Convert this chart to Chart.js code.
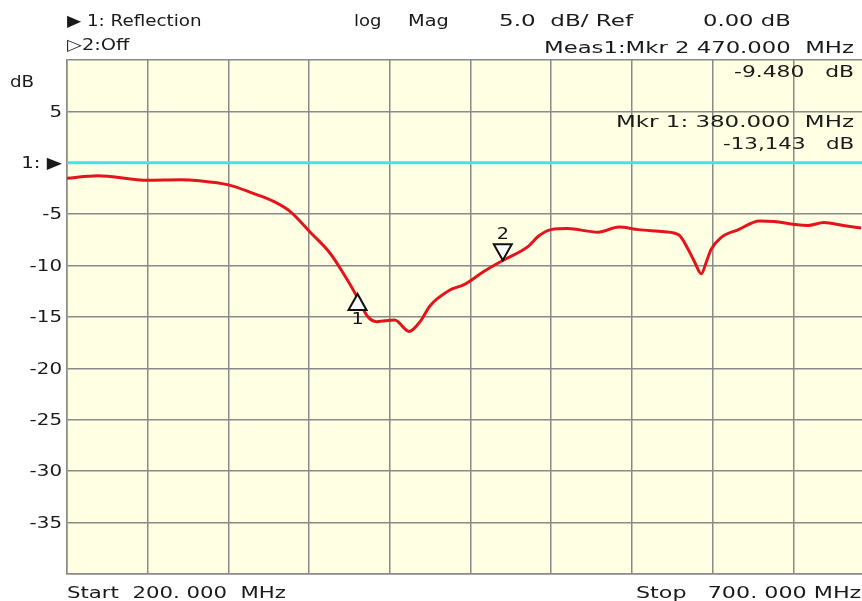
<!DOCTYPE html>
<html>
<head>
<meta charset="utf-8">
<script src="https://cdn.jsdelivr.net/npm/chart.js@4.4.0/dist/chart.umd.min.js"></script>
<style>
  html, body { margin: 0; padding: 0; background: #fff; overflow: hidden; }
  #wrap { position: relative; width: 862px; height: 601px; overflow: hidden; }
  canvas { position: absolute; left: 0; top: 0; }
  .t { position: absolute; font-family: "DejaVu Sans", sans-serif; font-size: 16px; color: #1a1a1a; white-space: pre; line-height: 1; transform-origin: left center; }
  .r { text-align: right; transform-origin: right center; }
</style>
</head>
<body>
<div id="wrap">
  <canvas id="c" width="900" height="601"></canvas>
  <div class="t" data-w="135" style="left:67px;top:13px">▶ 1: Reflection</div>
  <div class="t" data-w="63" style="left:67px;top:37px">▷2:Off</div>
  <div class="t" data-w="27" style="left:354px;top:13px">log</div>
  <div class="t" data-w="41" style="left:408px;top:13px">Mag</div>
  <div class="t" data-w="134" style="left:499px;top:13px">5.0  dB/ Ref</div>
  <div class="t" data-w="88" style="left:703px;top:13px">0.00 dB</div>
  <div class="t r" data-w="310" style="right:8px;top:40px">Meas1:Mkr 2 470.000  MHz</div>
  <div class="t r" data-w="120" style="right:8px;top:64px">-9.480   dB</div>
  <div class="t r" data-w="238" style="right:8px;top:114px">Mkr 1: 380.000  MHz</div>
  <div class="t r" data-w="131" style="right:8px;top:136px">-13,143   dB</div>
  <div class="t" data-w="24" style="left:10px;top:74px">dB</div>
  <div class="t" data-w="219" style="left:67px;top:585px">Start  200. 000  MHz</div>
  <div class="t" data-w="225" style="left:636px;top:585px">Stop   700. 000 MHz</div>
</div>
<script>
// trace 1: reflection (MHz, dB)
const freq = [200, 219, 250, 270, 282, 300, 315, 328, 338, 351, 363, 371, 380, 386, 392, 403, 412, 419, 425, 437, 446, 458, 470, 486, 492, 500, 510, 529, 542, 554, 570, 579, 585, 589, 593, 596, 599, 605, 616, 629, 638, 651, 659, 669, 681, 692];
const refl = [-1.5, -1.25, -1.7, -1.65, -1.75, -2.15, -2.95, -3.75, -4.7, -6.8, -8.8, -10.7, -13.1, -14.9, -15.45, -15.3, -16.4, -15.4, -13.9, -12.4, -11.85, -10.6, -9.5, -8.1, -7.15, -6.5, -6.4, -6.75, -6.25, -6.5, -6.7, -7.0, -8.45, -9.7, -10.8, -9.7, -8.45, -7.3, -6.5, -5.65, -5.7, -6.0, -6.1, -5.8, -6.1, -6.35];

// reference line
const refFreq = [200, 700];
const refLevel = [0, 0];

// markers
const markerName = ['1', '2'];
const markerFreq = [380, 470];
const markerDb = [-13.143, -9.48];
const markerDir = ['up', 'down'];

const yTicks = { '10': '', '0': '1: ▶', '-40': '' };

// stretch the header/footer text to the wide analyser font
document.querySelectorAll('.t').forEach(el => {
  const w = +el.dataset.w;
  el.style.transform = 'scaleX(' + (w / el.offsetWidth) + ')';
});

const plotBg = {
  id: 'plotBg',
  beforeDraw(chart) {
    const a = chart.chartArea, ctx = chart.ctx;
    ctx.save();
    ctx.fillStyle = '#ffffe3';
    ctx.fillRect(a.left, a.top, a.right - a.left, a.bottom - a.top);
    ctx.restore();
  }
};

// y labels drawn by hand so they can be stretched wider
const yLabels = {
  id: 'yLabels',
  afterDraw(chart) {
    const ys = chart.scales.y, ctx = chart.ctx;
    ctx.save();
    ctx.fillStyle = '#1a1a1a';
    ctx.font = '16px "DejaVu Sans"';
    ctx.textAlign = 'right';
    ctx.textBaseline = 'middle';
    ys.ticks.forEach(t => {
      const key = String(t.value);
      const txt = key in yTicks ? yTicks[key] : key;
      if (!txt) return;
      ctx.save();
      ctx.translate(ys.right - 5, ys.getPixelForValue(t.value) + 1);
      ctx.scale(1.24, 1);
      ctx.fillText(txt, 0, 0);
      ctx.restore();
    });
    ctx.restore();
  }
};

const markers = {
  id: 'markers',
  afterDatasetsDraw(chart) {
    const ctx = chart.ctx, xs = chart.scales.x, ys = chart.scales.y;
    ctx.save();
    ctx.lineWidth = 2;
    ctx.strokeStyle = '#111';
    ctx.font = '16px "DejaVu Sans"';
    ctx.textAlign = 'center';
    ctx.textBaseline = 'middle';
    markerFreq.forEach((f, i) => {
      const px = xs.getPixelForValue(f);
      const py = ys.getPixelForValue(markerDb[i]);
      const w = 18, h = 16;
      ctx.beginPath();
      if (markerDir[i] === 'up') {
        ctx.moveTo(px, py - 4);
        ctx.lineTo(px - w / 2, py - 4 + h);
        ctx.lineTo(px + w / 2, py - 4 + h);
      } else {
        ctx.moveTo(px, py);
        ctx.lineTo(px - w / 2, py - h);
        ctx.lineTo(px + w / 2, py - h);
      }
      ctx.closePath();
      ctx.fillStyle = '#fff';
      ctx.fill();
      ctx.stroke();
      ctx.fillStyle = '#111';
      const ly = markerDir[i] === 'up' ? py - 4 + h + 10 : py - h - 9;
      ctx.save();
      ctx.translate(px, ly);
      ctx.scale(1.2, 1);
      ctx.fillText(markerName[i], 0, 0);
      ctx.restore();
    });
    ctx.restore();
  }
};

new Chart(document.getElementById('c'), {
  type: 'scatter',
  data: {
    datasets: [
      {
        data: refFreq.map((f, i) => ({ x: f, y: refLevel[i] })),
        showLine: true,
        borderColor: '#3fe6e6',
        borderWidth: 3,
        pointRadius: 0
      },
      {
        data: freq.map((f, i) => ({ x: f, y: refl[i] })),
        showLine: true,
        borderColor: '#e3141b',
        borderWidth: 3,
        pointRadius: 0,
        cubicInterpolationMode: 'monotone'
      }
    ]
  },
  options: {
    responsive: false,
    animation: false,
    layout: { padding: { top: 60, right: 26, left: 0, bottom: 0 } },
    plugins: {
      legend: { display: false },
      tooltip: { enabled: false }
    },
    scales: {
      x: {
        type: 'linear',
        min: 200,
        max: 700,
        ticks: { display: false, stepSize: 50 },
        grid: { color: '#8a8a8a', lineWidth: 1.5, drawTicks: false },
        border: { color: '#8a8a8a', width: 1.5 },
        afterFit: s => { s.height = 27; }
      },
      y: {
        min: -40,
        max: 10,
        ticks: { display: false, stepSize: 5 },
        grid: { color: '#8a8a8a', lineWidth: 1.5, drawTicks: false },
        border: { color: '#8a8a8a', width: 1.5 },
        afterFit: s => { s.width = 67; }
      }
    }
  },
  plugins: [plotBg, yLabels, markers]
});
</script>
</body>
</html>
